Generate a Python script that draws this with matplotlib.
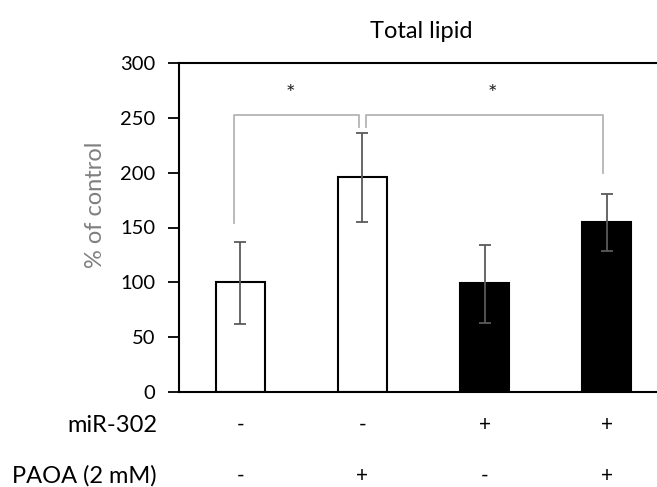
import matplotlib
matplotlib.use('Agg')
import matplotlib.pyplot as plt
import numpy as np

# data
groups = ['ctrl', 'PAOA', 'miR-302', 'miR-302 + PAOA']
means = [100, 196, 99, 155]
err_lo = [38, 41, 36, 26]
err_hi = [37, 40, 35, 26]
bar_colors = ['white', 'white', 'black', 'black']
mir302 = ['-', '-', '+', '+']
paoa = ['-', '+', '-', '+']

plt.rcParams['font.family'] = ['Lato', 'DejaVu Sans']

W, H = 657, 487
fig = plt.figure(figsize=(W / 100, H / 100), dpi=100)
# axes runs past the right edge like the cropped original
ax = fig.add_axes([179 / W, 1 - 392 / H, (668 - 179) / W, (392 - 63) / H])

x = np.arange(len(groups))
ax.bar(x, means, width=0.4, color=bar_colors, edgecolor='black', linewidth=1.5, zorder=2)
ax.errorbar(x, means, yerr=[err_lo, err_hi], fmt='none', ecolor='#5a5a5a',
            elinewidth=1.3, capsize=4, capthick=1.3, zorder=3)

ax.set_xlim(-0.5, 3.5)
ax.set_ylim(0, 300)
ax.set_yticks(np.arange(0, 301, 50))
ax.tick_params(axis='y', direction='out', length=8, width=1.3, pad=9, labelsize=14.5)
ax.set_xticks([])
for s in ['left', 'top', 'bottom']:
    ax.spines[s].set_linewidth(1.5)
ax.spines['right'].set_visible(False)

ax.set_ylabel('% of control', color='#7f7f7f', fontsize=17, labelpad=10, y=0.57)
ax.set_title('Total lipid', fontsize=17, pad=18, x=(421 - 179) / (668 - 179))

# significance brackets
gray = '#b4b4b4'
ax.plot([x[0] - 0.05, x[0] - 0.05, x[1] - 0.03, x[1] - 0.03], [154, 253, 253, 242],
        color=gray, lw=1.3, clip_on=False)
ax.plot([x[1] + 0.03, x[1] + 0.03, x[3] - 0.03, x[3] - 0.03], [242, 253, 253, 200],
        color=gray, lw=1.3, clip_on=False)
ax.text(0.41, 272, '*', ha='center', va='center', fontsize=16, color='#222222')
ax.text(2.06, 272, '*', ha='center', va='center', fontsize=16, color='#222222')

# condition table under the axis
for yy, name, signs in [(1 - 425 / H, 'miR-302', mir302),
                        (1 - 476 / H, 'PAOA (2 mM)', paoa)]:
    fig.text(157 / W, yy, name, ha='right', va='center', fontsize=17)
    for xi, s in zip(x, signs):
        px = ax.transData.transform((xi, 0))[0] / W
        fig.text(px, yy, s, ha='center', va='center', fontsize=15)

fig.savefig('out.png', dpi=100)
